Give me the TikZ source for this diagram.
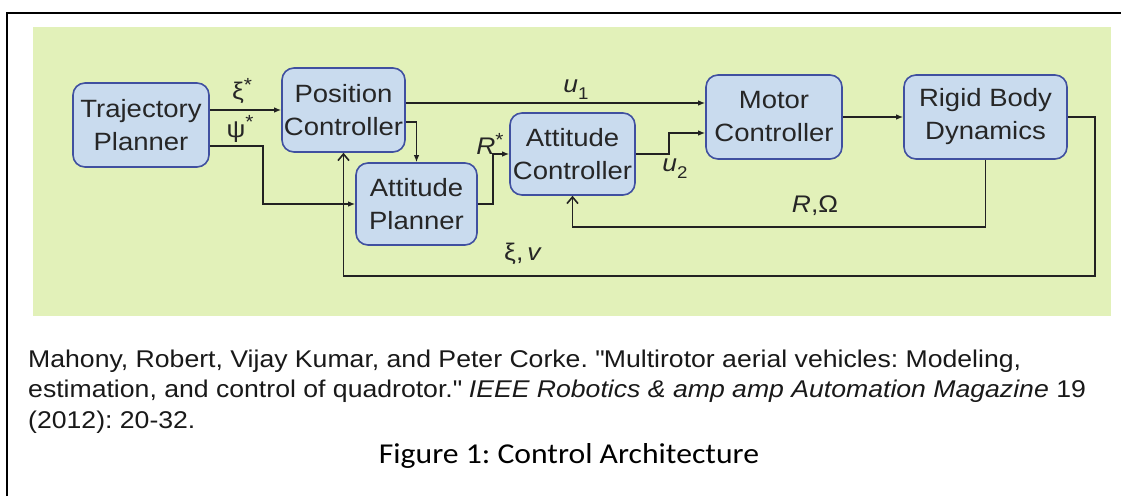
\documentclass[tikz,border=0pt]{standalone}
\usepackage{fontspec}
\setmainfont[FakeStretch=1.1]{Liberation Sans}
\newfontfamily\calib[FakeStretch=1.1]{Carlito}
\usetikzlibrary{arrows.meta}
\definecolor{bgc}{HTML}{E2F1B9}
\definecolor{boxfill}{HTML}{C9DBEE}
\definecolor{boxdraw}{HTML}{4050A0}
\definecolor{lnc}{HTML}{222222}
\newcommand{\supstar}{\raisebox{0.36em}{\fontsize{19}{19}\selectfont *}}
\newcommand{\subnum}[1]{\raisebox{-0.28em}{\fontsize{17}{17}\selectfont #1}}
\frenchspacing
\begin{document}
\begin{tikzpicture}[x=1pt,y=-1pt,
 blk/.style={draw=boxdraw, fill=boxfill, line width=1.6pt, rounded corners=12pt, align=center,
   font=\fontsize{25}{33}\selectfont, text=black!85, inner sep=0pt},
 conn/.style={draw=lnc, line width=1.3pt, -{Latex[length=7pt,width=5.5pt]}},
 fb/.style={draw=lnc, line width=1.3pt, -{Straight Barb[length=6.5pt,width=11pt,line width=1.6pt]}},
 lbl/.style={font=\fontsize{24}{30}\selectfont, inner sep=0pt, text=black!85},
 cite/.style={font=\fontsize{24.2}{30}\selectfont\frenchspacing, inner sep=0pt, anchor=base west, text=black!90}]
\useasboundingbox (0,0) rectangle (1121,496);
\fill[white] (0,0) rectangle (1121,496);
% frame
\draw[line width=2pt] (7,496) -- (7,13) -- (1121,13);
% green background
\fill[bgc] (33,27) rectangle (1111,316);
% blocks
\node[blk, minimum width=136pt, minimum height=84pt] (traj) at (141,125) {Trajectory\\Planner};
\node[blk, minimum width=123pt, minimum height=84pt] (pos) at (343.5,110) {Position\\Controller};
\node[blk, minimum width=121pt, minimum height=82pt] (ap) at (416.5,204) {Attitude\\Planner};
\node[blk, minimum width=125pt, minimum height=82pt] (ac) at (572.5,154) {Attitude\\Controller};
\node[blk, minimum width=136pt, minimum height=84pt] (motor) at (774,117) {Motor\\Controller};
\node[blk, minimum width=163pt, minimum height=84pt] (rbd) at (985.5,117) {Rigid Body\\Dynamics};
% helper coordinates
\coordinate (y110) at (0,110);
\coordinate (y146) at (0,146);
\coordinate (y122) at (0,122);
\coordinate (y103) at (0,103);
\coordinate (y133) at (0,133);
\coordinate (y227) at (0,227);
\coordinate (y276) at (0,276);
\coordinate (x263) at (263,0);
\coordinate (x493) at (493,0);
\coordinate (x669) at (669,0);
\coordinate (x1095) at (1095,0);
% connectors
\draw[conn] (traj.east |- y110) -- (pos.west |- y110);
\draw[conn] (traj.east |- y146) -| (x263 |- ap.west) -- (ap.west);
\draw[conn] (pos.east |- y122) -| (ap.north);
\draw[conn] (pos.east |- y103) -- (motor.west |- y103);
\draw[conn] (ap.east) -| (x493 |- ac.west) -- (ac.west);
\draw[conn] (ac.east) -| (x669 |- y133) -- (motor.west |- y133);
\draw[conn] (motor.east) -- (rbd.west);
\draw[fb] (rbd.south) |- (ac.south |- y227) -- (ac.south);
\draw[fb] (rbd.east) -| (x1095 |- y276) -| (pos.south);
% labels
\node[lbl] (lxi) at (242,91) {ξ\supstar};
\node[lbl] (lpsi) at (240,129) {ψ\supstar};
\node[lbl] (lu1) at (576,90) {\textit{u}\subnum{1}};
\node[lbl] (lr) at (490,144) {\textit{R}\supstar};
\node[lbl] (lu2) at (675,169) {\textit{u}\subnum{2}};
\node[lbl] (lrom) at (815,206) {\textit{R},Ω};
\node[lbl] (lxv) at (523,254) {ξ,\,\textit{v}};
% citation
\node[cite] (c1) at (28,367) {Mahony, Robert, Vijay Kumar, and Peter Corke. \textquotedbl Multirotor aerial vehicles: Modeling,};
\node[cite] (c2) at (28,397) {estimation, and control of quadrotor.\textquotedbl\ \textit{IEEE Robotics \& amp amp Automation Magazine} 19};
\node[cite] (c3) at (28,428) {(2012): 20-32.};
\node[font=\calib\fontsize{28.8}{32}\selectfont, inner sep=0pt, anchor=base] (cap) at (569,463) {Figure 1: Control Architecture};
\end{tikzpicture}
\end{document}
